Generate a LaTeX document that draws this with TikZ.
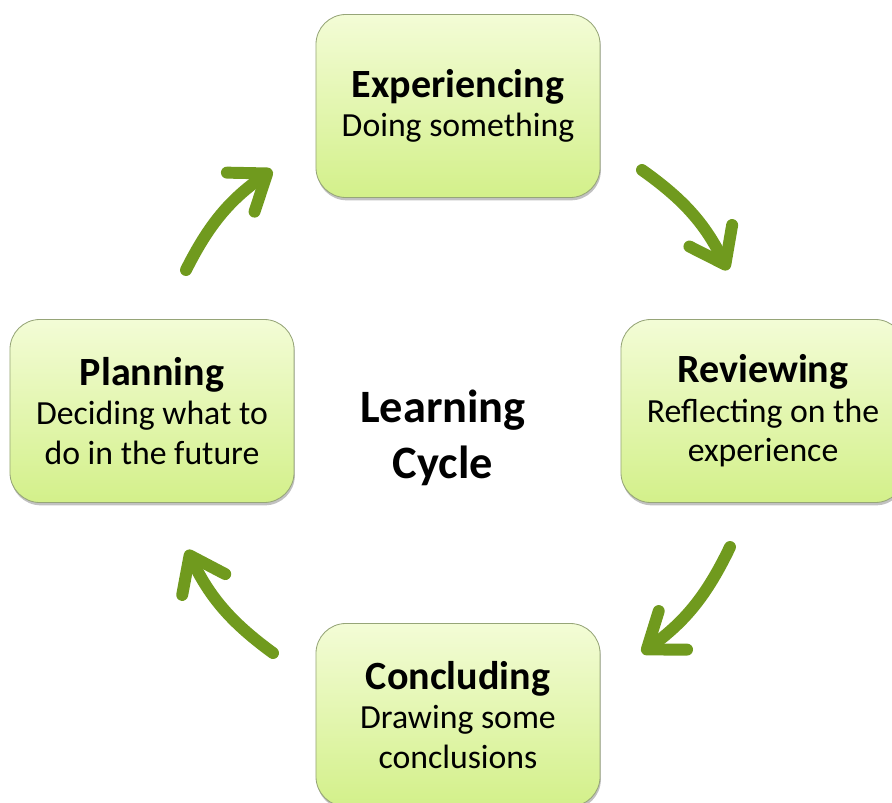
\documentclass[tikz,border=0pt]{standalone}
\usepackage{fontspec}
\setmainfont{Carlito}
\usetikzlibrary{arrows.meta,shadows}
\definecolor{boxtop}{RGB}{243,252,214}
\definecolor{boxbot}{RGB}{211,240,138}
\definecolor{boxline}{RGB}{150,165,120}
\definecolor{arrowgreen}{RGB}{112,154,30}
\tikzset{
  stagebox/.style={draw=boxline, line width=0.6pt, rounded corners=0.75cm,
    top color=boxtop, bottom color=boxbot,
    minimum width=7.1cm, minimum height=4.575cm, align=center,
    font=\fontsize{24}{28}\selectfont,
    drop shadow={shadow xshift=0.6pt, shadow yshift=-2pt, opacity=0.35, fill=black!70}},
  cyclearrow/.style={line width=8.5pt, arrowgreen, line cap=round,
    -{Straight Barb[length=23pt,width=34pt,round]}}
}
\begin{document}
\begin{tikzpicture}[x=0.025cm,y=-0.025cm]
\clip (0,0) rectangle (892,802);
% the four stages
\node[stagebox] (exp) at (458,106) {{\fontsize{28.5}{30}\selectfont\bfseries Experiencing}\\Doing something};
\node[stagebox] (rev) at (763,411) {{\fontsize{28.5}{30}\selectfont\bfseries Reviewing}\\Reflecting on the\\experience};
\node[stagebox] (con) at (458,715) {{\fontsize{28.5}{30}\selectfont\bfseries Concluding}\\Drawing some\\conclusions};
\node[stagebox] (pla) at (152,411) {{\fontsize{28.5}{30}\selectfont\bfseries Planning}\\Deciding what to\\do in the future};
\node[align=center, font=\fontsize{33}{40}\selectfont\bfseries] (cycle) at (443,438) {Learning\\Cycle};
% arrow ends
\coordinate (pe1) at (186,270);
\coordinate (pe2) at (272,170);
\coordinate (er1) at (642,170);
\coordinate (er2) at (728,270);
\coordinate (rc1) at (730,547);
\coordinate (rc2) at (642,653);
\coordinate (cp1) at (273,653);
\coordinate (cp2) at (187,550);
\draw[cyclearrow] (pe1) to[bend left=14] (pe2);
\draw[cyclearrow] (er1) to[bend left=14] (er2);
\draw[cyclearrow] (rc1) to[bend left=14] (rc2);
\draw[cyclearrow] (cp1) to[bend left=14] (cp2);
\end{tikzpicture}
\end{document}
